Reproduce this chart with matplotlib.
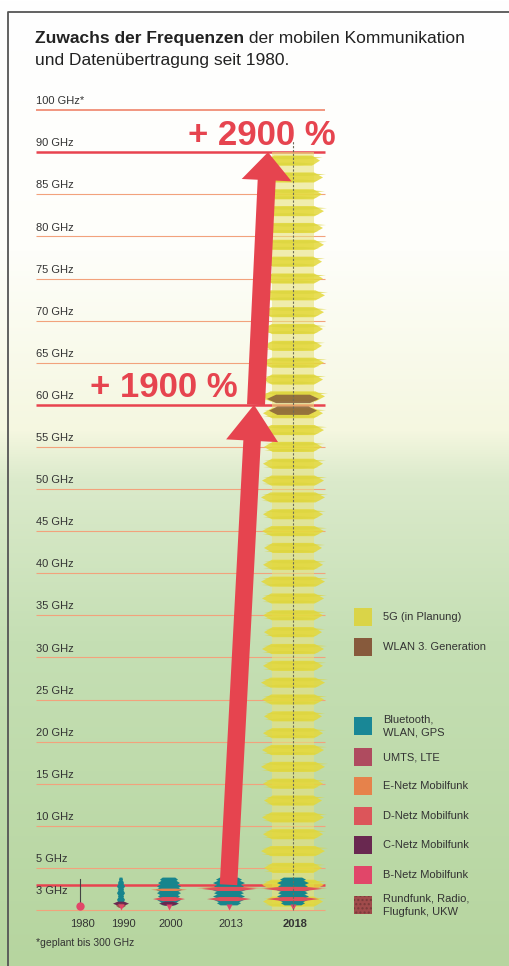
import numpy as np
import matplotlib.pyplot as plt
from matplotlib.patches import Polygon, Rectangle

plt.rcParams['font.family'] = ['Liberation Sans', 'DejaVu Sans']

W, H = 509, 966
Y0 = 910          # pixel row of 0 GHz
PX_GHZ = 8.42     # pixels per GHz


def ghz(py):
    return (Y0 - py) / PX_GHZ


# ---------------- data ----------------
# "100 GHz*" sits one step above 90 GHz (axis break)
grid_ghz = [95, 90, 85, 80, 75, 70, 65, 60, 55, 50, 45, 40, 35, 30, 25, 20, 15, 10, 5, 3]
grid_labels = ["100 GHz*", "90 GHz", "85 GHz", "80 GHz", "75 GHz", "70 GHz", "65 GHz",
               "60 GHz", "55 GHz", "50 GHz", "45 GHz", "40 GHz", "35 GHz", "30 GHz",
               "25 GHz", "20 GHz", "15 GHz", "10 GHz", "5 GHz", "3 GHz"]
highlight_ghz = [90, 60, 3]

years = ["1980", "1990", "2000", "2013", "2018"]

start_ghz = 3
target_ghz = [60, 90]
growth_labels = ["+ 1900 %", "+ 2900 %"]

# 5G (in Planung) lobes of the 2018 column
fiveg_ghz = [1, 3, 5, 7, 9, 11, 13, 15, 17, 19, 21, 23, 25, 27, 29, 31, 33, 35, 37, 39,
             41, 43, 45, 47, 49, 51, 53, 55, 57, 59, 61, 63, 65, 67, 69, 71, 73, 75, 77,
             79, 81, 83, 85, 87, 89]
fiveg_spread = [30, 31, 29, 32, 30, 31, 29, 30, 32, 31, 30, 29, 31, 32, 30, 31, 29, 30,
                31, 32, 30, 29, 31, 30, 32, 31, 30, 29, 31, 30, 32, 30, 31, 29, 30, 31,
                32, 30, 29, 31, 30, 31, 29, 30, 27]

# WLAN 3. Generation (60 GHz)
wlan3_ghz = [59.3, 60.7]
wlan3_spread = [24, 26]

# Bluetooth, WLAN, GPS
teal_ghz = [3.6, 3.2, 2.8, 2.4, 2.0, 1.6, 1.2, 0.8]
teal_1990 = [2, 3, 4, 3, 4, 3, 4, 3]
teal_2000 = [9, 11, 12, 13, 12, 11, 12, 9]
teal_2013 = [13, 16, 15, 17, 15, 16, 15, 12]
teal_2018 = [13, 16, 15, 17, 15, 16, 15, 12]

# mobile bands per year
band_year = ["1990", "1990", "2000", "2000", "2000", "2013", "2013", "2013",
             "2018", "2018", "2018"]
band_ghz = [0.75, 0.5, 2.4, 1.3, 0.75, 2.6, 2.5, 1.3, 2.6, 2.5, 1.3]
band_spread = [8, 5, 18, 16, 10, 32, 27, 22, 34, 29, 26]
band_key = ["C", "R", "E", "D", "C", "E", "D", "D", "E", "D", "D"]
bnetz_ghz = 0.3

legend_labels = ["5G (in Planung)", "WLAN 3. Generation", "Bluetooth,\nWLAN, GPS",
                 "UMTS, LTE", "E-Netz Mobilfunk", "D-Netz Mobilfunk", "C-Netz Mobilfunk",
                 "B-Netz Mobilfunk", "Rundfunk, Radio,\nFlugfunk, UKW"]

# ---------------- style ----------------
col_x = [80, 121, 169, 229, 293]
legend_y = [617, 647, 726, 757, 786, 816, 845, 875, 905]
legend_colors = ["#dad448", "#875a3c", "#198796", "#af4b5f", "#e6824b", "#dc555a",
                 "#692850", "#e14669", "#a04b4b"]
key_color = {"E": "#e8824e", "D": "#e0505a", "C": "#692850", "R": "#a04b4b"}
RED = "#e6444f"
TEAL = "#17858d"
YELLOW = "#e4d83a"
TXT = "#333333"

fig = plt.figure(figsize=(W / 100, H / 100), dpi=100)

# background gradient
bg = fig.add_axes([0, 0, 1, 1])
stops_y = [0, 250, 430, 480, 640, 966]
stops_c = np.array([[255, 255, 255], [254, 254, 250], [245, 247, 224], [219, 234, 203],
                    [197, 223, 180], [182, 213, 159]]) / 255
rows = np.arange(H)
grad = np.stack([np.interp(rows, stops_y, stops_c[:, i]) for i in range(3)], axis=1)
bg.imshow(grad[:, None, :], aspect='auto', extent=(0, W, H, 0))
bg.set_axis_off()

ax = fig.add_axes([0, 0, 1, 1])
ax.set_xlim(0, W)
ax.set_ylim(ghz(H), ghz(0))
ax.set_axis_off()
ax.patch.set_alpha(0)

# frame
ax.plot([8, 8, W], [ghz(H), ghz(12), ghz(12)], color="#555555", lw=1.3, zorder=10)


def lobe(xc, yc, spread, h, color, alpha=1.0, z=3, body=0.75):
    pts = [(xc - spread, yc), (xc - spread * body, yc + h / 2),
           (xc + spread * body, yc + h / 2), (xc + spread, yc),
           (xc + spread * body, yc - h / 2), (xc - spread * body, yc - h / 2)]
    ax.add_patch(Polygon(pts, closed=True, fc=color, ec='none', alpha=alpha, zorder=z))


def arrow(x0, g0, x1, g1, shaft, head_w, head_l):
    p0 = np.array([x0, Y0 - g0 * PX_GHZ])
    p1 = np.array([x1, Y0 - g1 * PX_GHZ])
    u = (p1 - p0) / np.linalg.norm(p1 - p0)
    n = np.array([-u[1], u[0]])
    base = p1 - u * head_l
    pts = [p0 + n * shaft / 2, base + n * shaft / 2, base + n * head_w / 2, p1,
           base - n * head_w / 2, base - n * shaft / 2, p0 - n * shaft / 2]
    pts = [(p[0], ghz(p[1])) for p in pts]
    ax.add_patch(Polygon(pts, closed=True, fc=RED, ec='none', zorder=6))


# gridlines + labels
ax.hlines(0, 36, 325, color="#f2a27c", lw=0.8, zorder=1)
for g, lab in zip(grid_ghz, grid_labels):
    if g in highlight_ghz:
        c, lw = "#e8434f", 1.8
    elif g == grid_ghz[0]:
        c, lw = "#ee7a5e", 1.1
    else:
        c, lw = "#f2a27c", 0.8
    ax.hlines(g, 36, 325, color=c, lw=lw, zorder=1)
    ly = g - 0.8 if g == start_ghz else g + 1.05
    ax.text(36, ly, lab, ha='left', va='center', fontsize=8, color=TXT, zorder=7)

# 5G column: pale core plus feathered lobes
x18 = col_x[4]
ax.add_patch(Rectangle((x18 - 21, 0), 42, 90, fc="#e8e27c", ec='none', alpha=0.6, zorder=2))
for g, s in zip(fiveg_ghz, fiveg_spread):
    lobe(x18, g, s, 1.2, YELLOW, alpha=0.85, z=3, body=0.7)
    lobe(x18 + 2, g + 0.35, s * 1.03, 0.35, "#ddd640", alpha=0.8, z=3, body=0.4)
    lobe(x18 - 2, g - 0.4, s * 0.92, 0.3, "#ddd640", alpha=0.8, z=3, body=0.4)
for g, s in zip(wlan3_ghz, wlan3_spread):
    lobe(x18, g, s, 1.0, "#87603a", alpha=0.85, z=4, body=0.65)

# Bluetooth/WLAN/GPS columns
for xi, spreads in zip(col_x[1:], [teal_1990, teal_2000, teal_2013, teal_2018]):
    for g, s in zip(teal_ghz, spreads):
        lobe(xi, g, s, 0.5, TEAL, z=4, body=0.7)

# mobile bands
for yr, g, s, k in zip(band_year, band_ghz, band_spread, band_key):
    xi = col_x[years.index(yr)]
    h = 0.28 if k == "E" else 0.48
    lobe(xi, g, s, h, key_color[k], z=5, body=0.4)

# 1980 thin line and B-Netz markers
ax.plot([col_x[0], col_x[0]], [0.6, 3.7], color="#444444", lw=0.8, zorder=4)
for i, xi in enumerate(col_x):
    ax.plot(xi, bnetz_ghz + (0.2 if i == 0 else 0), marker='v' if i else 'o',
            ms=6 if i == 0 else 4.5, color="#e14669", mec='none', zorder=6)

# growth arrows
arrow(228.5, start_ghz, 254, target_ghz[0], 17.5, 52, 36)
arrow(256, target_ghz[0], 268, target_ghz[1], 18, 50, 28)
ax.text(90, ghz(397), growth_labels[0], fontsize=25, weight='bold', color=RED,
        ha='left', va='baseline', zorder=7)
ax.text(188, ghz(145), growth_labels[1], fontsize=25, weight='bold', color=RED,
        ha='left', va='baseline', zorder=7)

# 2018 dashed centre line
ax.plot([x18, x18], [0, target_ghz[1] + 1.5], color="#6b6b5a", lw=0.8,
        dashes=(2, 1.5), zorder=8)

# year labels
for xi, yr in zip(col_x, years):
    ax.text(xi + 2, ghz(924), yr, ha='center', va='center', fontsize=8, color=TXT,
            weight='bold' if yr == years[-1] else 'normal')
ax.text(36, ghz(943), "*geplant bis 300 GHz", ha='left', va='center', fontsize=7.5,
        color=TXT)

# legend
for lab, col, ly in zip(legend_labels, legend_colors, legend_y):
    hatch = '....' if lab.startswith("Rundfunk") else None
    ax.add_patch(Rectangle((354, ghz(ly + 9)), 18, 18 / PX_GHZ, fc=col,
                           ec="#7a3a3a" if hatch else 'none', lw=0, hatch=hatch, zorder=5))
    ax.text(383, ghz(ly), lab, ha='left', va='center', fontsize=8, color=TXT,
            linespacing=1.45)

# title: bold part followed by regular part on the same baseline
t1 = ax.text(35, ghz(43), "Zuwachs der Frequenzen", fontsize=12.5, weight='bold',
             color="#222222", va='baseline')
fig.canvas.draw()
bb = t1.get_window_extent(renderer=fig.canvas.get_renderer())
x_next = ax.transData.inverted().transform((bb.x1, bb.y0))[0]
ax.text(x_next, ghz(43), " der mobilen Kommunikation", fontsize=12.5, color="#222222",
        va='baseline')
ax.text(35, ghz(65), "und Datenübertragung seit 1980.", fontsize=12.5, color="#222222",
        va='baseline')

fig.savefig("out.png", dpi=100)
